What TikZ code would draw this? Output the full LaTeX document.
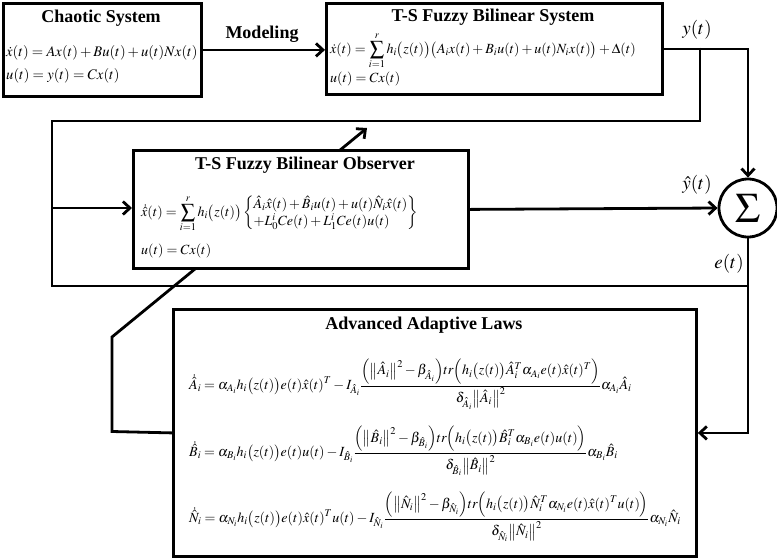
\documentclass[tikz,border=0pt]{standalone}
\usepackage{mathptmx}
\usepackage{amsmath}
\usepackage{fontspec}
\setmainfont{Liberation Serif}
\usetikzlibrary{arrows.meta,calc}
\pgfdeclarelayer{bg}
\pgfsetlayers{bg,main}
\tikzset{
  blk/.style={draw, line width=2.8pt, fill=white, inner sep=0pt, anchor=north west},
  ttl/.style={font=\bfseries\fontsize{18}{21}\selectfont, inner sep=0pt},
  eqA/.style={anchor=west, inner sep=0pt, font=\fontsize{14.6}{18}\selectfont},
  eqB/.style={anchor=west, inner sep=0pt, font=\fontsize{14}{17}\selectfont},
  eqC/.style={anchor=west, inner sep=0pt, font=\fontsize{14}{16}\selectfont},
  sig/.style={font=\fontsize{19}{22}\selectfont, inner sep=0pt},
  ln/.style={line width=2.8pt},
  arr/.style={ln, -{Straight Barb[length=7pt,width=13pt]}},
}
\begin{document}
\begin{tikzpicture}[x=1pt,y=-1pt]
\useasboundingbox (0,0) rectangle (777,558);
% blocks
\node[blk, minimum width=198pt, minimum height=93pt] (cs) at (2,2) {};
\node[blk, minimum width=336pt, minimum height=91pt] (ts) at (325,2) {};
\node[blk, minimum width=335pt, minimum height=118pt] (obs) at (132,149) {};
\node[blk, minimum width=523pt, minimum height=247pt] (ada) at (172,308) {};
\node[draw, circle, line width=2.8pt, minimum size=58pt, inner sep=0pt, fill=white,
      font=\fontsize{42}{44}\selectfont] (sum) at (748,208) {$\Sigma$};

% texts
\node[ttl] (cst) at (101,18) {Chaotic System};
\node[eqA] (cse1) at (6,53) {$\dot x(t)=Ax(t)+Bu(t)+u(t)Nx(t)$};
\node[eqA] (cse2) at (6,76) {$u(t)=y(t)=Cx(t)$};

\node[ttl] (tst) at (493,17) {T-S Fuzzy Bilinear System};
\node[eqB] (tse1) at (330,51) {$\displaystyle \dot x(t)=\sum_{i=1}^{r}h_i\big(z(t)\big)\big(A_ix(t)+B_iu(t)+u(t)N_ix(t)\big)+\Delta(t)$};
\node[eqB] (tse2) at (330,79) {$u(t)=Cx(t)$};

\node[ttl] (obt) at (305,165) {T-S Fuzzy Bilinear Observer};
\node[eqC] (obe1) at (141,214) {$\displaystyle \dot{\hat x}(t)=\sum_{i=1}^{r}h_i\big(z(t)\big)\left\{\begin{array}{@{}l@{}}\hat A_i\hat x(t)+\hat B_iu(t)+u(t)\hat N_i\hat x(t)\\ +L_0^iCe(t)+L_1^iCe(t)u(t)\end{array}\right\}$};
\node[eqC] (obe2) at (141,251) {$u(t)=Cx(t)$};

\node[ttl] (adt) at (424,325) {Advanced Adaptive Laws};
\node[eqC] (ade1) at (189,384) {$\displaystyle \dot{\hat A}_i=\alpha_{A_i}h_i\big(z(t)\big)e(t)\hat x(t)^T-I_{\hat A_i}\frac{\Big(\big\|\hat A_i\big\|^2-\beta_{\hat A_i}\Big)tr\Big(h_i\big(z(t)\big)\hat A_i^T\alpha_{A_i}e(t)\hat x(t)^T\Big)}{\delta_{\hat A_i}\big\|\hat A_i\big\|^2}\alpha_{A_i}\hat A_i$};
\node[eqC] (ade2) at (189,451) {$\displaystyle \dot{\hat B}_i=\alpha_{B_i}h_i\big(z(t)\big)e(t)u(t)-I_{\hat B_i}\frac{\Big(\big\|\hat B_i\big\|^2-\beta_{\hat B_i}\Big)tr\Big(h_i\big(z(t)\big)\hat B_i^T\alpha_{B_i}e(t)u(t)\Big)}{\delta_{\hat B_i}\big\|\hat B_i\big\|^2}\alpha_{B_i}\hat B_i$};
\node[eqC] (ade3) at (189,517) {$\displaystyle \dot{\hat N}_i=\alpha_{N_i}h_i\big(z(t)\big)e(t)\hat x(t)^Tu(t)-I_{\hat N_i}\frac{\Big(\big\|\hat N_i\big\|^2-\beta_{\hat N_i}\Big)tr\Big(h_i\big(z(t)\big)\hat N_i^T\alpha_{N_i}e(t)\hat x(t)^Tu(t)\Big)}{\delta_{\hat N_i}\big\|\hat N_i\big\|^2}\alpha_{N_i}\hat N_i$};

% labels
\node[ttl] (mod) at (262,34) {Modeling};
\node[sig] (ly) at (697,30) {$y(t)$};
\node[sig] (lyh) at (697,185) {$\hat y(t)$};
\node[sig] (le) at (729,264) {$e(t)$};

% coordinates
\coordinate (tap) at (700,47.5);
\coordinate (LT) at (52,121);
\coordinate (LB) at (52,286);
\coordinate (Lin) at (52,208);
\coordinate (d1) at (112,431.5);
\coordinate (d2) at (112,337);
\coordinate (d3) at (367,128);

% connectors
\draw[arr] (cs.east) -- (cs.east -| ts.west);
\draw[arr] (ts.east) -- (ts.east -| sum.north) -- (sum.north);
\draw[ln, line join=miter] (tap) -- (tap |- LT) -- (LT) -- (LB) -- (LB -| sum.south);
\draw[arr] (Lin) -- (Lin -| obs.west);
\draw[arr] (obs.east) -- (sum.west);
\draw[arr, line join=miter] (sum.south) -- (sum.south |- ada.east) -- (ada.east);
\begin{pgfonlayer}{bg}
\draw[arr, line join=miter] (ada.west) -- (d1) -- (d2) -- (d3);
\end{pgfonlayer}
\end{tikzpicture}
\end{document}
